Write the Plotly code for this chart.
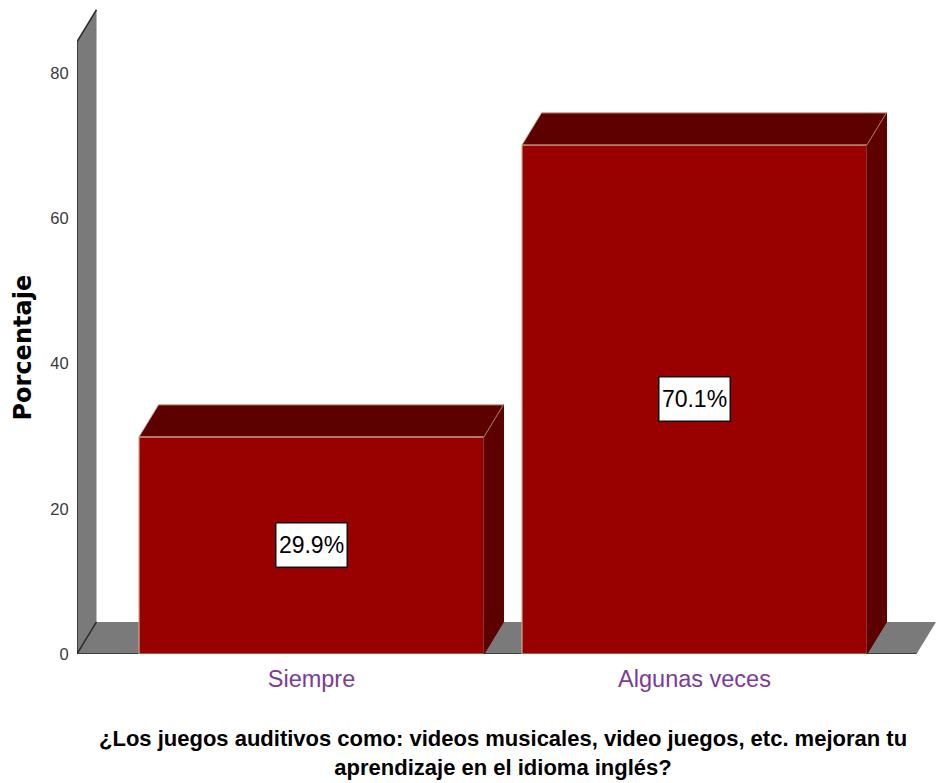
import plotly.graph_objects as go

categories = ["Siempre", "Algunas veces"]
values = [29.9, 70.1]
labels = ["29.9%", "70.1%"]
y_ticks = [0, 20, 40, 60, 80]
x_title = "¿Los juegos auditivos como: videos musicales, video juegos, etc. mejoran tu<br>aprendizaje en el idioma inglés?"
y_title = "Porcentaje"

WIDTH, HEIGHT = 936, 783
BAR_W = 0.9008
DX, DY = 0.0509, 4.41
XMIN, XMAX = -0.6123, 1.6305
YMAX = 88.95
WALL_TOP = 84.3
WALL_LEFT = -0.6123
FRONT_RIGHT = XMAX - DX

RED, DARK, EDGE, GREY, LINE = "#990000", "#5c0000", "#c9a78f", "#7a7a7a", "#2b2b2b"
SANS = "Liberation Sans, Arial, sans-serif"

fig = go.Figure()
xs = list(range(len(categories)))

# front faces
fig.add_bar(x=xs, y=values, width=BAR_W, marker=dict(color=RED, line=dict(color=EDGE, width=1.2)),
            showlegend=False, hoverinfo="skip")

# top and side faces
for x, v in zip(xs, values):
    l, r = x - BAR_W / 2, x + BAR_W / 2
    fig.add_scatter(x=[l, l + DX, r + DX, r, l], y=[v, v + DY, v + DY, v, v], mode="lines",
                    fill="toself", fillcolor=DARK, line=dict(color=EDGE, width=1),
                    showlegend=False, hoverinfo="skip")
    fig.add_scatter(x=[r, r + DX, r + DX, r, r], y=[v, v + DY, DY, 0, v], mode="lines",
                    fill="toself", fillcolor=DARK, line=dict(color=DARK, width=1),
                    showlegend=False, hoverinfo="skip")
    fig.add_scatter(x=[r, r + DX], y=[v, v + DY], mode="lines", line=dict(color="#a5755f", width=1),
                    showlegend=False, hoverinfo="skip")

# gray wall and floor, below the bars
shapes = [
    dict(type="path", layer="below", line=dict(width=0), fillcolor=GREY,
         path=f"M {WALL_LEFT} 0 L {WALL_LEFT + DX} {DY} L {WALL_LEFT + DX} {WALL_TOP + DY} L {WALL_LEFT} {WALL_TOP} Z"),
    dict(type="path", layer="below", line=dict(width=0), fillcolor=GREY,
         path=f"M {WALL_LEFT} 0 L {WALL_LEFT + DX} {DY} L {XMAX} {DY} L {FRONT_RIGHT} 0 Z"),
    dict(type="line", layer="below", line=dict(color=LINE, width=1.5),
         x0=WALL_LEFT, y0=0, x1=WALL_LEFT + DX, y1=DY),
    dict(type="line", layer="below", line=dict(color=LINE, width=1.5),
         x0=WALL_LEFT, y0=0, x1=WALL_LEFT, y1=WALL_TOP),
    dict(type="line", layer="below", line=dict(color=LINE, width=1.5),
         x0=WALL_LEFT, y0=0, x1=FRONT_RIGHT, y1=0),
    dict(type="line", layer="below", line=dict(color=LINE, width=1.5),
         x0=WALL_LEFT, y0=WALL_TOP, x1=WALL_LEFT + DX, y1=WALL_TOP + DY),
]

annotations = [
    dict(x=x, y=v / 2, text=t, showarrow=False, bgcolor="white", bordercolor="#111111", borderwidth=1.5,
         width=68, height=41, font=dict(family=SANS, size=23, color="#000000"))
    for x, v, t in zip(xs, values, labels)
]
annotations.append(dict(xref="paper", yref="paper", x=0.496, y=0, yanchor="top", xanchor="center", yshift=-70,
                        showarrow=False, text=x_title, align="center",
                        font=dict(family=SANS, size=22, color="#000000", weight="bold")))
annotations.append(dict(xref="paper", yref="y", x=0, y=42.2, xanchor="center", yanchor="middle", xshift=-54,
                        showarrow=False, textangle=-90, text=y_title,
                        font=dict(family="DejaVu Sans, sans-serif", size=24, color="#000000", weight="bold")))

fig.update_layout(
    width=WIDTH, height=HEIGHT, autosize=False,
    margin=dict(l=77, r=0, t=8, b=129),
    paper_bgcolor="white", plot_bgcolor="rgba(0,0,0,0)",
    shapes=shapes, annotations=annotations, showlegend=False,
    xaxis=dict(range=[XMIN, XMAX], tickvals=xs, ticktext=categories, showgrid=False, zeroline=False,
               showline=False, ticks="outside", ticklen=4, tickcolor="rgba(0,0,0,0)", automargin=False,
               tickfont=dict(family=SANS, size=23.5, color="#7b3b97")),
    yaxis=dict(range=[0, YMAX], tickvals=y_ticks, showgrid=False, zeroline=False, showline=False,
               ticks="outside", ticklen=4, tickcolor="rgba(0,0,0,0)", automargin=False,
               tickfont=dict(family=SANS, size=16.5, color="#3a3a3a")),
)

fig.write_html("out.html", config=dict(displayModeBar=False),
               post_script="document.body.style.margin='0';document.documentElement.style.overflow='hidden';")
